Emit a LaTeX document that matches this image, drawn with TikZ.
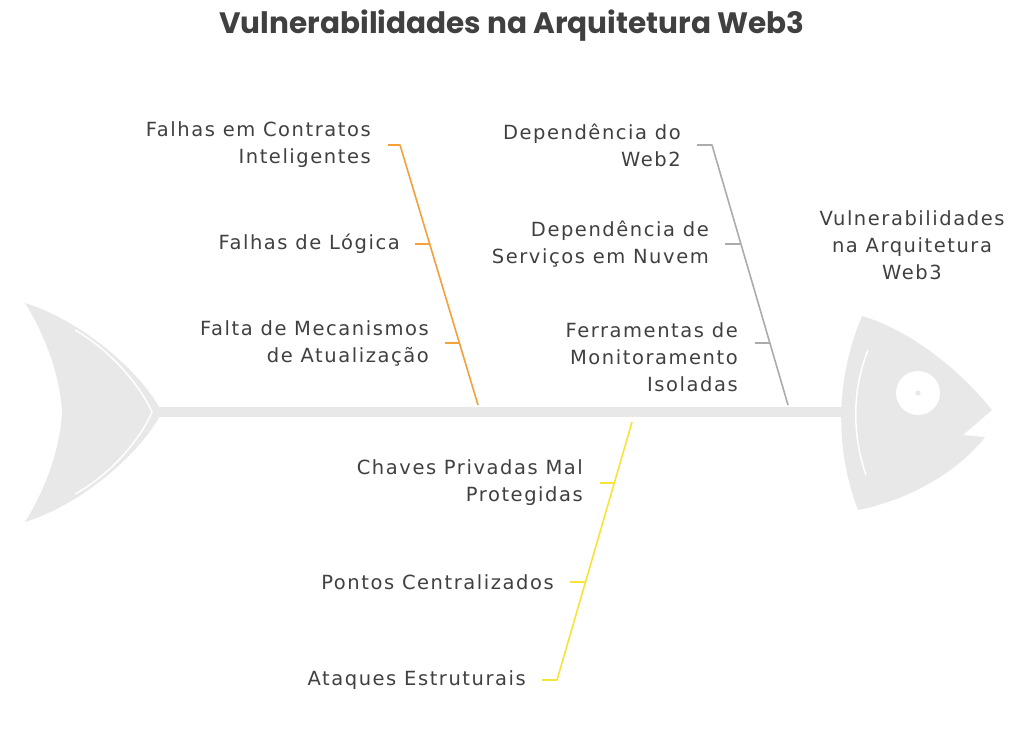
\documentclass[tikz,border=0pt]{standalone}
\usepackage{fontspec}
\setmainfont[LetterSpace=8]{DejaVu Sans}
\newfontfamily\titlefont{Poppins}
\definecolor{fishgray}{HTML}{E8E8E8}
\definecolor{txtgray}{HTML}{404040}
\definecolor{boneorange}{HTML}{F5A03A}
\definecolor{bonegray}{HTML}{ABABAB}
\definecolor{boneyellow}{HTML}{F7E33A}
\begin{document}
\begin{tikzpicture}[x=1pt, y=-1pt,
    cause/.style={font=\fontsize{19.5}{27}\selectfont, text=txtgray, align=right, anchor=east, inner sep=0pt},
    bone/.style={line width=1.6pt, line join=round}]
	\useasboundingbox (0,0) rectangle (1024,729);
	\node[font=\titlefont\bfseries\fontsize{29.5}{32}\selectfont, text=txtgray] (title) at (512,26) {Vulnerabilidades na Arquitetura Web3};
	% Fish
	\draw[fishgray, line width=10pt] (155,412) -- (845,412);
	\fill[fishgray] (25,303) .. controls (80,320) and (140,370) .. (162,412) .. controls (140,455) and (80,505) .. (25,522) .. controls (45,490) and (60,450) .. (62,412) .. controls (60,375) and (45,335) .. (25,303) -- cycle;
	\draw[white, line width=1.5pt] (75,330) .. controls (110,350) and (140,385) .. (152,412) .. controls (140,440) and (110,475) .. (75,494);
	\fill[fishgray] (862,316) .. controls (910,330) and (960,370) .. (992,410) -- (963,435) -- (985,437) .. controls (960,470) and (910,500) .. (858,510) .. controls (835,450) and (835,380) .. (862,316) -- cycle;
	\draw[white, line width=1.5pt] (868,350) .. controls (852,390) and (852,435) .. (866,475);
	\fill[white] (918,393) circle (22);
	\fill[fishgray] (918,393) circle (2.5);
	\node[font=\fontsize{19.5}{27}\selectfont, text=txtgray, align=center] (effect) at (912,245) {Vulnerabilidades\\na Arquitetura\\Web3};
	% Orange bone
	\coordinate (o1) at (400,145);
	\coordinate (o2) at (430,244);
	\coordinate (o3) at (459,343);
	\coordinate (o4) at (478,405);
	\draw[bone, boneorange] (388,145) -- (o1) -- (o4);
	\draw[bone, boneorange] (415,244) -- (o2);
	\draw[bone, boneorange] (445,343) -- (o3);
	\node[cause] (c1) at (371,145) {Falhas em Contratos\\Inteligentes};
	\node[cause] (c2) at (400,244) {Falhas de Lógica};
	\node[cause] (c3) at (429,343) {Falta de Mecanismos\\de Atualização};
	% Gray bone
	\coordinate (g1) at (712,145);
	\coordinate (g2) at (740,244);
	\coordinate (g3) at (770,343);
	\coordinate (g4) at (788,405);
	\draw[bone, bonegray] (697,145) -- (g1) -- (g4);
	\draw[bone, bonegray] (725,244) -- (g2);
	\draw[bone, bonegray] (755,343) -- (g3);
	\node[cause] (c4) at (681,145) {Dependência do\\Web2};
	\node[cause] (c5) at (709,244) {Dependência de\\Serviços em Nuvem};
	\node[cause, yshift=-14pt] (c6) at (738,343) {Ferramentas de\\Monitoramento\\Isoladas};
	% Yellow bone
	\coordinate (y1) at (632,422);
	\coordinate (y2) at (614,483);
	\coordinate (y3) at (585,582);
	\coordinate (y4) at (557,680);
	\draw[bone, boneyellow] (y1) -- (y4) -- (542,680);
	\draw[bone, boneyellow] (600,483) -- (y2);
	\draw[bone, boneyellow] (570,582) -- (y3);
	\node[cause] (c7) at (583,483) {Chaves Privadas Mal\\Protegidas};
	\node[cause] (c8) at (554,582) {Pontos Centralizados};
	\node[cause] (c9) at (526,680) {Ataques Estruturais};
\end{tikzpicture}
\end{document}
